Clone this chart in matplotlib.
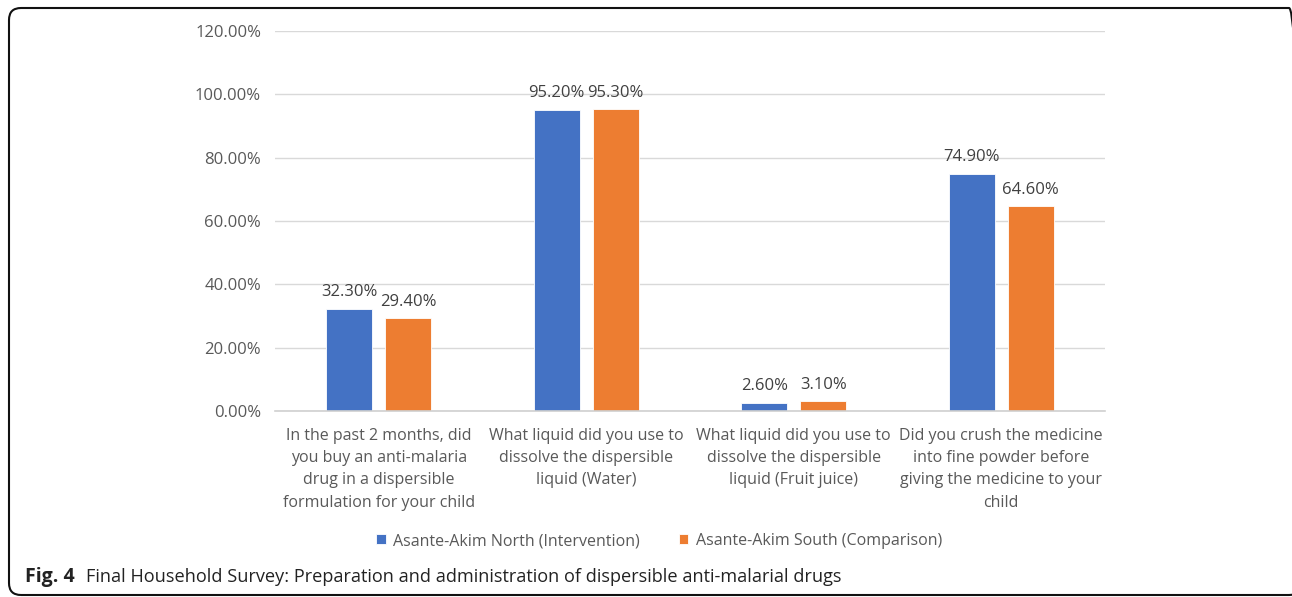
import matplotlib
matplotlib.use("Agg")
import matplotlib.pyplot as plt
from matplotlib.patches import FancyBboxPatch
import numpy as np

categories = [
    "In the past 2 months, did\nyou buy an anti-malaria\ndrug in a dispersible\nformulation for your child",
    "What liquid did you use to\ndissolve the dispersible\nliquid (Water)",
    "What liquid did you use to\ndissolve the dispersible\nliquid (Fruit juice)",
    "Did you crush the medicine\ninto fine powder before\ngiving the medicine to your\nchild",
]
north = [32.30, 95.20, 2.60, 74.90]
south = [29.40, 95.30, 3.10, 64.60]
series_names = ["Asante-Akim North (Intervention)", "Asante-Akim South (Comparison)"]
yticks = [0, 20, 40, 60, 80, 100, 120]

plt.rcParams['font.family'] = ['Open Sans', 'DejaVu Sans']

W, H = 1292, 597
fig = plt.figure(figsize=(W / 100, H / 100), dpi=100)

ax = fig.add_axes([275 / W, 1 - 411 / H, (1105 - 275) / W, (411 - 31) / H])

x = np.arange(len(categories))
bw = 0.222
off = 0.142
blue = "#4472C4"
orange = "#ED7D31"
b1 = ax.bar(x - off, north, bw, color=blue, edgecolor="white", linewidth=0.6, zorder=3, label=series_names[0])
b2 = ax.bar(x + off, south, bw, color=orange, edgecolor="white", linewidth=0.6, zorder=3, label=series_names[1])

for bars, vals in ((b1, north), (b2, south)):
    for r, v in zip(bars, vals):
        ax.annotate(f"{v:.2f}%", (r.get_x() + r.get_width() / 2, v), xytext=(0, 6),
                    textcoords="offset points", ha="center", va="bottom",
                    fontsize=12, color="#404040")

ax.set_xlim(-0.5, 3.5)
ax.set_ylim(0, 120)
ax.set_yticks(yticks)
ax.set_yticklabels([f"{t:.2f}%" for t in yticks])
ax.set_xticks(x)
ax.set_xticklabels(categories, linespacing=1.53, fontsize=11.5)
ax.tick_params(axis="both", length=0, labelcolor="#595959")
ax.tick_params(axis="y", pad=10, labelsize=12)
ax.tick_params(axis="x", pad=12)
ax.grid(axis="y", color="#D9D9D9", linewidth=1, zorder=0)
for s in ("left", "right", "top"):
    ax.spines[s].set_visible(False)
ax.spines["bottom"].set_color("#D0D0D0")
ax.spines["bottom"].set_linewidth(1.2)
ax.spines["bottom"].set_zorder(4)

leg = fig.legend(handles=[b1, b2], labels=series_names, loc="center",
                 bbox_to_anchor=(659 / W, 1 - 541 / H), ncol=2, frameon=False,
                 fontsize=11.5, handlelength=0.6, handleheight=0.6,
                 handletextpad=0.45, columnspacing=2.45)
for t in leg.get_texts():
    t.set_color("#595959")

fig.text(25 / W, 1 - 577 / H, "Fig. 4", fontsize=14, fontweight="bold",
         ha="left", va="center", color="#222222")
fig.text(86 / W, 1 - 577 / H, "Final Household Survey: Preparation and administration of dispersible anti-malarial drugs",
         fontsize=13.1, ha="left", va="center", color="#222222")

border = FancyBboxPatch((9, 2), 1292, 587,
                        boxstyle="round,pad=0,rounding_size=12",
                        transform=None, fill=False, edgecolor="#111111",
                        linewidth=1.5, clip_on=False)
fig.patches.append(border)

fig.savefig("out.png", dpi=100)
